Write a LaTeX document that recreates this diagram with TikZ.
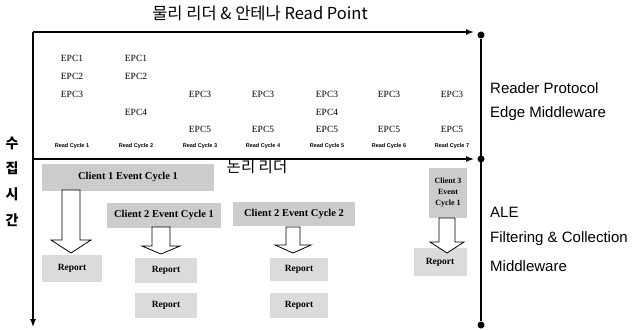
\documentclass[tikz,border=0pt]{standalone}
\usepackage{fontspec}
\setmainfont{Liberation Serif}
\setsansfont{Liberation Sans}
\newfontfamily\cjk{Noto Sans CJK KR}
\usetikzlibrary{arrows.meta}
\begin{document}
\begin{tikzpicture}[x=1pt,y=-1pt,
  axis/.style={line width=1.4pt,-{Latex[length=8pt,width=6pt]}},
  dotnode/.style={circle,fill=black,inner sep=0pt,minimum size=7pt},
  epc/.style={font=\fontsize{9.5}{10}\selectfont\rmfamily,inner sep=0pt},
  rc/.style={font=\fontsize{5.5}{6}\selectfont\sffamily\bfseries,inner sep=0pt},
  lbl/.style={font=\fontsize{15}{16}\selectfont\sffamily,anchor=west,inner sep=0pt},
  kor/.style={font=\fontsize{15.5}{17}\selectfont\cjk,inner sep=0pt},
  korside/.style={font=\fontsize{14}{16}\selectfont\cjk\bfseries,inner sep=0pt},
  client/.style={fill=gray!40,inner sep=0pt,font=\fontsize{10.5}{11}\selectfont\rmfamily\bfseries},
  report/.style={fill=gray!28,inner sep=0pt,font=\fontsize{9.5}{10}\selectfont\rmfamily\bfseries},
  blk/.style={draw=black,line width=0.8pt,fill=white,line join=miter}
]
\useasboundingbox (0,0) rectangle (636,329);
% frame axes
\coordinate (tl) at (33,32);
\coordinate (tr) at (474,32);
\coordinate (bl) at (33,327);
\coordinate (ml) at (33,159);
\coordinate (mr) at (474,159);
\node[dotnode] (d1) at (481,35) {};
\node[dotnode] (d2) at (481,159) {};
\node[dotnode] (d3) at (481,325) {};
\draw[line width=1.4pt] (d1) -- (d3);
\draw[axis] (tl) -- (tr);
\draw[axis] (tl) -- (bl);
\draw[axis] (ml) -- (mr);
% titles
\node[kor,font=\fontsize{16.5}{18}\selectfont\cjk] (title) at (260,13) {물리 리더 \& 안테나 Read Point};
\node[kor] (logic) at (257,167) {논리 리더};
\node[korside] (k1) at (12,143) {수};
\node[korside] (k2) at (12,168) {집};
\node[korside] (k3) at (12,194) {시};
\node[korside] (k4) at (12,220) {간};
% right labels
\node[lbl] (rp) at (490,88) {Reader Protocol};
\node[lbl] (em) at (490,114) {Edge Middleware};
\node[lbl] (ale) at (490,212) {ALE};
\node[lbl] (fc) at (490,239) {Filtering \& Collection};
\node[lbl] (mw) at (490,266) {Middleware};
% EPC columns
\node[epc] (e11) at (72,58) {EPC1};
\node[epc] (e12) at (72,76) {EPC2};
\node[epc] (e13) at (72,94) {EPC3};
\node[epc] (e21) at (136,58) {EPC1};
\node[epc] (e22) at (136,76) {EPC2};
\node[epc] (e24) at (136,112) {EPC4};
\node[epc] (e33) at (200,94) {EPC3};
\node[epc] (e35) at (200,129) {EPC5};
\node[epc] (e43) at (263,94) {EPC3};
\node[epc] (e45) at (263,129) {EPC5};
\node[epc] (e53) at (327,94) {EPC3};
\node[epc] (e54) at (327,112) {EPC4};
\node[epc] (e55) at (327,129) {EPC5};
\node[epc] (e63) at (389,94) {EPC3};
\node[epc] (e65) at (389,129) {EPC5};
\node[epc] (e73) at (452,94) {EPC3};
\node[epc] (e75) at (452,129) {EPC5};
\node[rc] (r1) at (72,146) {Read Cycle 1};
\node[rc] (r2) at (136,146) {Read Cycle 2};
\node[rc] (r3) at (200,146) {Read Cycle 3};
\node[rc] (r4) at (263,146) {Read Cycle 4};
\node[rc] (r5) at (327,146) {Read Cycle 5};
\node[rc] (r6) at (389,146) {Read Cycle 6};
\node[rc] (r7) at (452,146) {Read Cycle 7};
% client boxes
\node[client,minimum width=172pt,minimum height=27pt] (c1) at (128,177) {Client 1 Event Cycle 1};
\node[client,minimum width=114pt,minimum height=25pt] (c2) at (164,215) {Client 2 Event Cycle 1};
\node[client,minimum width=122pt,minimum height=24pt] (c3) at (294,214) {Client 2 Event Cycle 2};
\node[client,minimum width=38pt,minimum height=50pt,align=center,font=\fontsize{8}{11}\selectfont\rmfamily\bfseries] (c4) at (448,193) {Client 3\\Event\\Cycle 1};
% reports
\node[report,minimum width=60pt,minimum height=27pt] (rep1) at (72,268) {Report};
\node[report,minimum width=62pt,minimum height=25pt] (rep2a) at (166,270) {Report};
\node[report,minimum width=62pt,minimum height=25pt] (rep2b) at (166,305) {Report};
\node[report,minimum width=58pt,minimum height=23pt] (rep3a) at (299,269) {Report};
\node[report,minimum width=58pt,minimum height=25pt] (rep3b) at (299,305) {Report};
\node[report,minimum width=53pt,minimum height=28pt] (rep4) at (440,262) {Report};
% block arrows
\draw[blk] (62,190) -- (80,190) -- (80,240) -- (91,240) -- (71,253) -- (51,240) -- (62,240) -- cycle;
\draw[blk] (152,227) -- (170,227) -- (170,246) -- (180,246) -- (161,254) -- (142,246) -- (152,246) -- cycle;
\draw[blk] (286,227) -- (300,227) -- (300,245) -- (311,245) -- (293,253) -- (275,245) -- (286,245) -- cycle;
\draw[blk] (439,218) -- (455,218) -- (455,242) -- (464,242) -- (447,253) -- (430,242) -- (439,242) -- cycle;
\end{tikzpicture}
\end{document}
